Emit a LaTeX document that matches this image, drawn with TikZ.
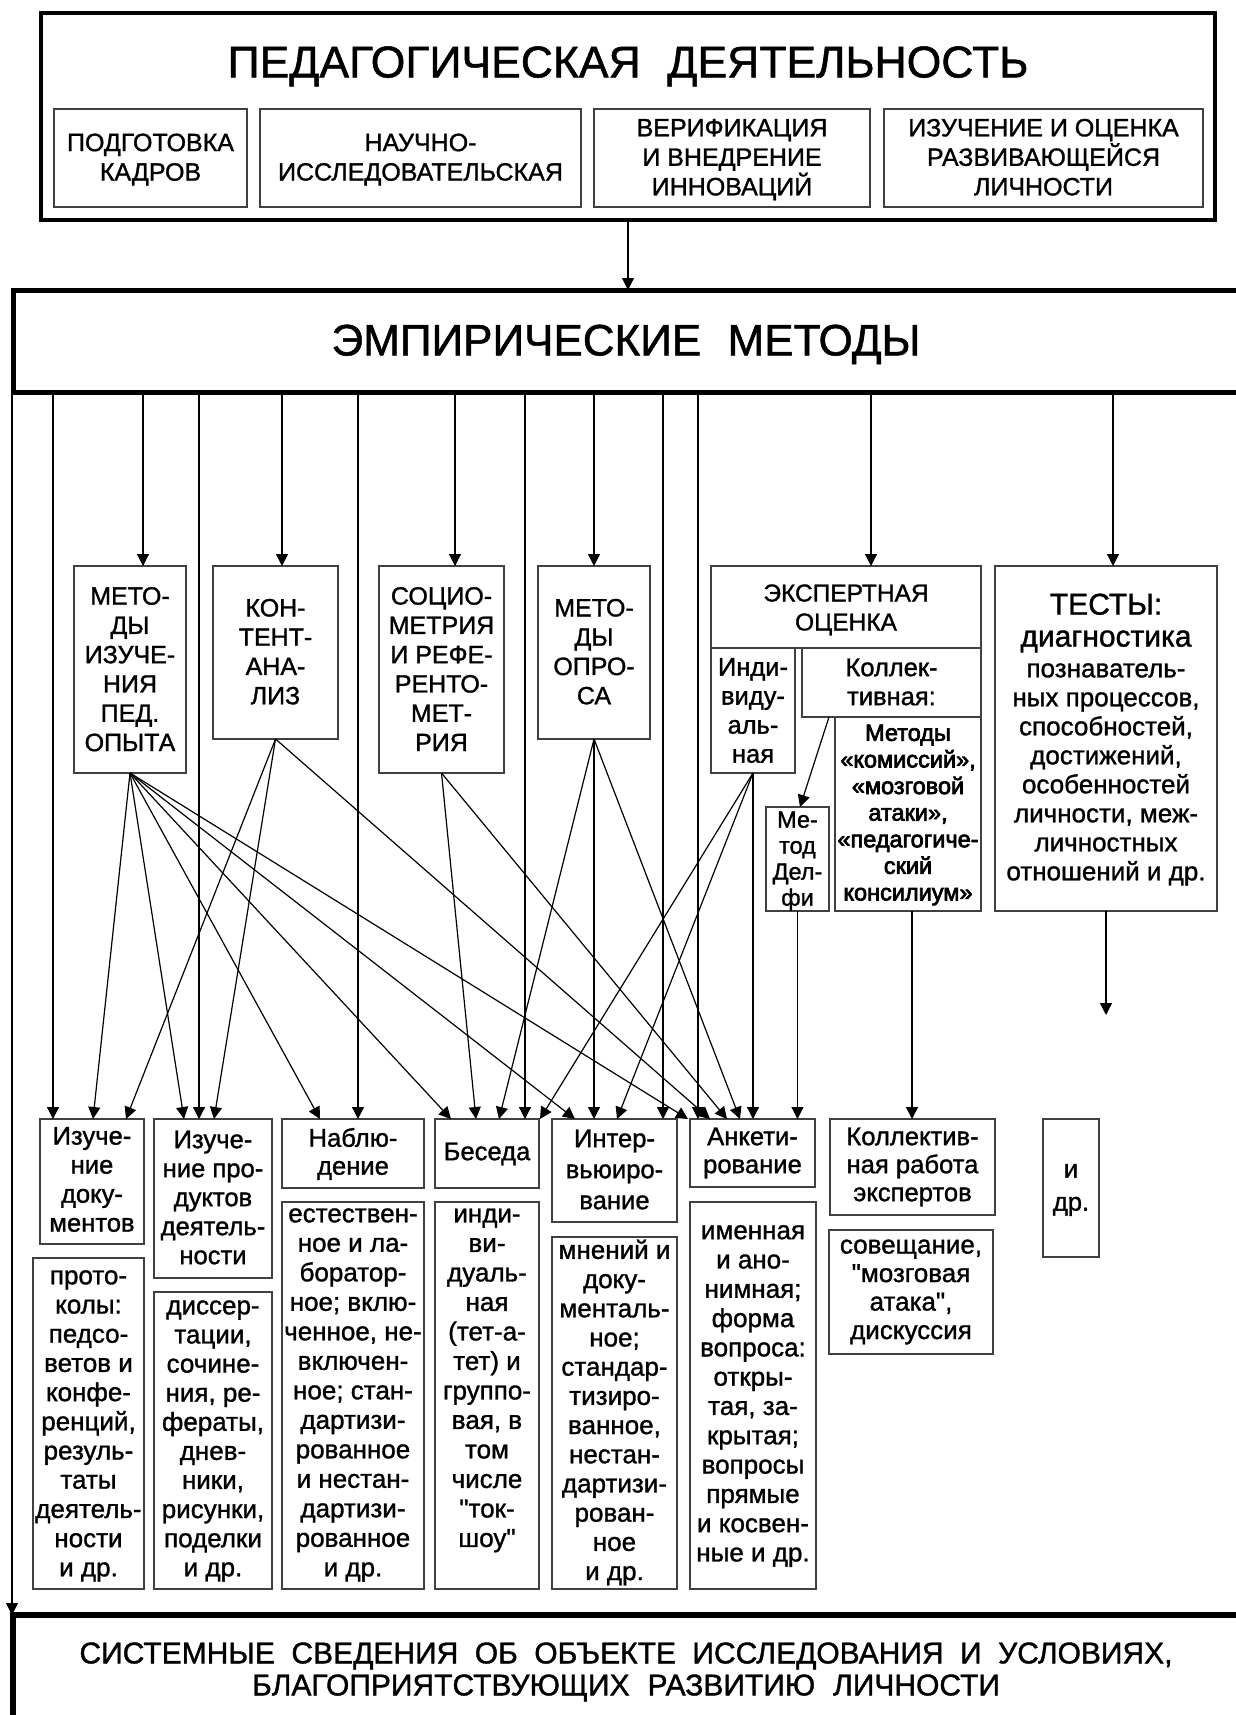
\documentclass[tikz,border=0pt]{standalone}
\usepackage{fontspec}
\setmainfont{Liberation Sans}[Ligatures=TeXOff, FakeBold=1.2]
\newfontfamily\boldish{Liberation Sans}[Ligatures=TeXOff, FakeBold=3]
\usetikzlibrary{arrows.meta}
\newcommand{\fz}[2]{\fontsize{#1}{#2}\selectfont}
\newcommand{\ph}{\vphantom{Ay}}
\newcommand{\ws}{\hspace{0.6em}}
\newcommand{\wss}{\hspace{0.55em}}
\tikzset{
  bx/.style={draw=black!75, line width=1.5pt, inner sep=0pt, outer sep=0pt, anchor=north west},
  thk/.style={draw=black, line width=5pt, inner sep=0pt, outer sep=0pt, anchor=north west},
  txt/.style={align=center, inner sep=0pt, outer sep=0pt, execute at begin node=\ph, execute at end node=\ph},
  arr/.style={draw=black, line width=1.2pt, -{Triangle[length=12pt,width=12pt]}},
}
\newcommand{\bxn}[6][bx]{\node[#1, minimum width={#4-#2}, minimum height={#5-#3}] (#6) at (#2,#3) {};}
\begin{document}
\begin{tikzpicture}[x=1pt,y=-1pt]
\useasboundingbox (0,0) rectangle (1236,1715);
\clip (0,0) rectangle (1236,1715);

% top block
\bxn[thk, line width=4.5pt]{41}{13}{1215}{220}{ped}
\node[txt, font=\fz{44.5}{50}] (tped) at (628,66.5) {ПЕДАГОГИЧЕСКАЯ\ws ДЕЯТЕЛЬНОСТЬ};
\bxn{54}{109}{247}{207}{sub1}
\bxn{260}{109}{581}{207}{sub2}
\bxn{594}{109}{870}{207}{sub3}
\bxn{884}{109}{1203}{207}{sub4}
\begin{scope}[every node/.style={txt, font=\fz{25}{29.5}}]
\node (tsub1) at (150.5,159.7) {ПОДГОТОВКА\\КАДРОВ};
\node (tsub2) at (420.5,159.7) {НАУЧНО-\\ИССЛЕДОВАТЕЛЬСКАЯ};
\node (tsub3) at (732,159.7) {ВЕРИФИКАЦИЯ\\И ВНЕДРЕНИЕ\\ИННОВАЦИЙ};
\node (tsub4) at (1043.5,159.7) {ИЗУЧЕНИЕ И ОЦЕНКА\\РАЗВИВАЮЩЕЙСЯ\\ЛИЧНОСТИ};
\end{scope}

% empirical methods
\bxn[thk]{13}{290}{1270}{392}{emp}
\node[txt, font=\fz{44}{50}] (temp) at (626,344.6) {ЭМПИРИЧЕСКИЕ\ws МЕТОДЫ};

% middle boxes
\bxn{74}{566}{186}{773}{mizu}
\bxn{213}{566}{338}{739}{kont}
\bxn{379}{566}{504}{773}{soc}
\bxn{538}{566}{650}{739}{opr}
\bxn{711}{566}{981}{648}{exp}
\bxn{711}{648}{795}{773}{ind}
\bxn{802}{648}{981}{717}{koll}
\bxn{835}{717}{981}{911}{meth}
\bxn{766}{807}{829}{911}{delf}
\bxn{995}{566}{1217}{911}{tests}
\begin{scope}[every node/.style={txt, font=\fz{25}{29.3}}]
\node (tmizu) at (130,671.7) {МЕТО-\\ДЫ\\ИЗУЧЕ-\\НИЯ\\ПЕД.\\ОПЫТА};
\node (tkont) at (275.5,654.2) {КОН-\\ТЕНТ-\\АНА-\\ЛИЗ};
\node (tsoc) at (441.5,671.7) {СОЦИО-\\МЕТРИЯ\\И РЕФЕ-\\РЕНТО-\\МЕТ-\\РИЯ};
\node (topr) at (594,654.2) {МЕТО-\\ДЫ\\ОПРО-\\СА};
\end{scope}
\node[txt, font=\fz{24.5}{29}] (texp) at (846,610) {ЭКСПЕРТНАЯ\\ОЦЕНКА};
\node[txt, font=\fz{25.5}{29}] (tind) at (753,713) {Инди-\\виду-\\аль-\\ная};
\node[txt, font=\fz{25.5}{29}] (tkoll) at (891.5,684.5) {Коллек-\\тивная:};
\node[txt, font=\boldish\fz{23.5}{26.6}] (tmeth) at (908,815) {Методы\\«комиссий»,\\«мозговой\\атаки»,\\«педагогиче-\\ский\\консилиум»};
\node[txt, font=\fz{23.5}{26}] (tdelf) at (797.5,861) {Ме-\\тод\\Дел-\\фи};
\node[txt, font=\fz{30}{32}] (ttest1) at (1106,623.2) {ТЕСТЫ:\\диагностика};
\node[txt, font=\fz{26}{29}] (ttest2) at (1106,774.5) {познаватель-\\ных процессов,\\способностей,\\достижений,\\особенностей\\личности, меж-\\личностных\\отношений и др.};

% bottom row
\bxn{40}{1119}{144}{1244}{idoc}
\bxn{154}{1119}{272}{1278}{iprod}
\bxn{282}{1119}{424}{1188}{nabl}
\bxn{435}{1119}{539}{1188}{bes}
\bxn{552}{1119}{677}{1222}{inter}
\bxn{690}{1119}{815}{1187}{anket}
\bxn{830}{1119}{995}{1215}{krab}
\bxn{1043}{1119}{1099}{1257}{idr}
\node[txt, font=\fz{25.6}{29}] (tidoc) at (92,1182) {Изуче-\\ние\\доку-\\ментов};
\node[txt, font=\fz{25.6}{29}] (tiprod) at (213,1200) {Изуче-\\ние про-\\дуктов\\деятель-\\ности};
\node[txt, font=\fz{25.6}{28}] (tnabl) at (353,1154) {Наблю-\\дение};
\node[txt, font=\fz{25.6}{28}] (tbes) at (487,1154) {Беседа};
\node[txt, font=\fz{25.6}{31}] (tinter) at (614.5,1172) {Интер-\\вьюиро-\\вание};
\node[txt, font=\fz{25.6}{28}] (tanket) at (752.5,1153) {Анкети-\\рование};
\node[txt, font=\fz{25.6}{28}] (tkrab) at (912.5,1167) {Коллектив-\\ная работа\\экспертов};
\node[txt, font=\fz{25.6}{33}] (tidr) at (1071,1190) {и\\др.};

% detail boxes
\bxn{33}{1258}{144}{1589}{prot}
\bxn{154}{1292}{272}{1589}{diss}
\bxn{282}{1202}{424}{1589}{estest}
\bxn{435}{1202}{539}{1589}{indiv}
\bxn{552}{1237}{677}{1589}{mnen}
\bxn{690}{1202}{816}{1589}{imen}
\bxn{829}{1230}{993}{1354}{soves}
\node[txt, font=\fz{26}{29.2}] (tprot) at (88.5,1426) {прото-\\колы:\\педсо-\\ветов и\\конфе-\\ренций,\\резуль-\\таты\\деятель-\\ности\\и др.};
\node[txt, font=\fz{26}{29.1}] (tdiss) at (213,1441) {диссер-\\тации,\\сочине-\\ния, ре-\\фераты,\\днев-\\ники,\\рисунки,\\поделки\\и др.};
\node[txt, font=\fz{26}{29.5}] (testest) at (353,1395) {естествен-\\ное и ла-\\боратор-\\ное; вклю-\\ченное, не-\\включен-\\ное; стан-\\дартизи-\\рованное\\и нестан-\\дартизи-\\рованное\\и др.};
\node[txt, font=\fz{26}{29.5}] (tindiv) at (487,1380.5) {инди-\\ви-\\дуаль-\\ная\\(тет-а-\\тет) и\\группо-\\вая, в\\том\\числе\\"ток-\\шоу"};
\node[txt, font=\fz{26}{29.2}] (tmnen) at (614.5,1412.5) {мнений и\\доку-\\менталь-\\ное;\\стандар-\\тизиро-\\ванное,\\нестан-\\дартизи-\\рован-\\ное\\и др.};
\node[txt, font=\fz{26}{29.3}] (timen) at (753,1396) {именная\\и ано-\\нимная;\\форма\\вопроса:\\откры-\\тая, за-\\крытая;\\вопросы\\прямые\\и косвен-\\ные и др.};
\node[txt, font=\fz{26}{28.5}] (tsoves) at (911,1292) {совещание,\\"мозговая\\атака",\\дискуссия};

% bottom block
\bxn[thk, line width=5.5pt]{13}{1615}{1270}{1780}{sys}
\node[txt, font=\fz{30}{32}] (tsys) at (626,1672) {СИСТЕМНЫЕ\wss СВЕДЕНИЯ\wss ОБ\wss ОБЪЕКТЕ\wss ИССЛЕДОВАНИЯ\wss И\wss УСЛОВИЯХ,\\БЛАГОПРИЯТСТВУЮЩИХ\ws РАЗВИТИЮ\ws ЛИЧНОСТИ};

% helper x positions
\foreach \x in {12,53,93,126,143,184,199,214,282,320,358,451,455,476,499,525,540,575,594,617,663,688,698,710,727,740,753,871,912,1113}
  \coordinate (p\x) at (\x,0);
\coordinate (tend) at (1106,1015);

% connectors
\draw[arr] (ped.south) -- (emp.north -| ped.south);
\foreach \tg/\x in {idoc/53, mizu/143, iprod/199, kont/282, nabl/358, soc/455, bes/525, opr/594, inter/663, anket/698, exp/871, tests/1113, sys/12}
  \draw[arr] (emp.south -| p\x) -- (\tg.north -| p\x);
\foreach \tg/\x in {idoc/93, iprod/184, nabl/320, bes/451, inter/575, anket/688}
  \draw[arr] (mizu.south) -- (\tg.north -| p\x);
\foreach \tg/\x in {idoc/126, iprod/214, anket/710}
  \draw[arr] (kont.south) -- (\tg.north -| p\x);
\foreach \tg/\x in {bes/476, anket/727}
  \draw[arr] (soc.south) -- (\tg.north -| p\x);
\foreach \tg/\x in {bes/499, inter/594, anket/740}
  \draw[arr] (opr.south) -- (\tg.north -| p\x);
\foreach \tg/\x in {bes/540, inter/617, anket/753}
  \draw[arr] (ind.south) -- (\tg.north -| p\x);
\draw[arr] ([xshift=27pt]koll.south west) -- ([xshift=34pt]delf.north west);
\draw[arr] (delf.south) -- (delf.south |- anket.north);
\draw[arr] (meth.south -| p912) -- (krab.north -| p912);
\draw[arr] (tests.south -| tend) -- (tend);
\end{tikzpicture}
\end{document}
